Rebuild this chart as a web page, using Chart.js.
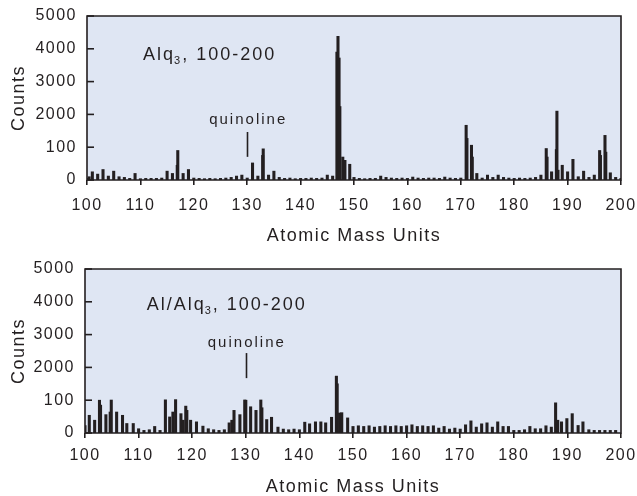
<!DOCTYPE html>
<html><head><meta charset="utf-8">
<script src="https://cdn.jsdelivr.net/npm/chart.js@4.4.1/dist/chart.umd.min.js"></script>
<style>
html,body{margin:0;padding:0;background:#fff;overflow:hidden;}
.panel{position:absolute;left:0;width:637px;}
canvas{display:block;}
</style></head><body>
<div class="panel" style="top:-4px;height:252px"><canvas id="c1" width="637" height="252"></canvas></div>
<div class="panel" style="top:248px;height:248px"><canvas id="c2" width="637" height="248"></canvas></div>
<script>
// ---- data ----
const yTickLabels = ['0','100','2000','3000','4000','5000'];

const alqMass = [100,100.4,101,102,103,104,105,106,107,108,
  109,110,111,112,113,114,115,116,116.9,117,
  118,119,120,121,122,123,124,125,126,127,
  128,129,130,131,132,132.9,133,134,135,136,
  137,138,139,140,141,142,143,144,145,146,
  146.8,147,147.2,147.35,147.9,148.3,149.2,150,151,152,
  153,154,155,156,157,158,159,160,161,162,
  163,164,165,166,167,168,169,170,171,171.15,
  172,172.15,173,174,175,176,177,178,179,180,
  181,182,183,184,185,186,186.15,187,187.9,188,
  188.2,189,190,191,192,193,194,195,196,196.15,
  197,197.15,198,199,200];
const alqCounts = [5,10,25,18,32,12,27,10,8,5,
  20,4,5,5,5,6,27,20,45,90,
  20,32,6,5,4,5,4,5,6,8,
  12,15,6,52,12,75,95,15,27,8,
  5,6,4,5,5,6,5,6,15,12,
  3900,4380,3720,2240,70,60,48,8,5,4,
  5,5,12,8,6,5,6,5,9,6,
  5,6,6,5,9,6,5,6,1370,610,
  215,70,20,6,15,8,15,8,6,5,
  6,5,6,8,15,96,70,25,93,2100,
  30,45,25,63,10,27,8,15,90,75,
  785,85,22,8,5];

const alAlqMass = [100,100.8,101.8,102.7,102.9,103.9,104.7,104.9,105.9,107,
  107.8,109,110,111,112,113,114,115,115.8,116.4,
  116.9,117.9,118.3,118.8,119,119.7,120.8,122,123,124,
  125,126,126.9,127.4,127.8,128.9,129.8,130,130.9,131.9,
  132.8,133,133.9,134.8,136,137,138,139,140,141,
  141.9,143,144,144.9,146,146.9,147.05,147.5,147.9,149,
  150,151,152,153,154,155,156,157,158,159,
  160,161,162,163,164,165,166,167,168,169,
  170,171,172,173,174,175,176,177,178,179,
  180,181,182,183,184,185,186,187,187.8,188.2,
  188.9,189.9,190.9,192,192.9,194,195,196,197,198,
  199];
const alAlqCounts = [23,54,39,100,85,56,64,110,64,54,
  29,29,13,8,10,20,8,122,49,64,
  134,59,39,82,69,39,34,21,13,10,
  8,10,31,39,69,56,113,100,80,69,
  114,77,41,48,18,12,10,12,10,33,
  28,34,34,31,48,1495,1050,61,62,46,
  20,22,20,22,18,20,22,20,22,20,
  22,25,20,22,20,22,15,20,12,15,
  12,25,37,18,28,31,18,34,20,20,
  8,8,10,20,13,13,22,18,92,39,
  34,44,59,23,34,10,8,8,8,8,
  8];

// broken count axis: 0-100 in the first division, 100-2000 in the second, linear above
function toAxis(v){
  if (v <= 100) return v * 10;
  if (v <= 2000) return 1000 + (v - 100) * 1000 / 1900;
  return v;
}

const INK = '#231f20';
const BG = '#dfe6f3';
const FONT = "'Liberation Sans', Arial, Helvetica, sans-serif";
Chart.defaults.color = INK;
Chart.defaults.font.family = FONT;

const panelPlugin = {
  id: 'panel',
  beforeDraw(chart){
    const {ctx, chartArea:{left, top, right, bottom}} = chart;
    ctx.letterSpacing = '1.5px';
    ctx.save();
    ctx.fillStyle = BG;
    ctx.fillRect(left, top, right - left, bottom - top);
    ctx.restore();
  },
  afterDraw(chart){
    const {ctx, chartArea:{left, top, right, bottom}, scales:{x, y}} = chart;
    const o = chart.options.plugins.panel;
    ctx.save();
    ctx.setLineDash([]);
    ctx.strokeStyle = INK;
    ctx.lineWidth = 1.6;
    ctx.beginPath();
    ctx.moveTo(left, top); ctx.lineTo(right, top); ctx.lineTo(right, bottom); ctx.lineTo(left, bottom); ctx.closePath();
    ctx.stroke();
    y.ticks.forEach(t => {
      const py = y.getPixelForValue(t.value);
      ctx.beginPath(); ctx.moveTo(left, py); ctx.lineTo(left + 7, py); ctx.stroke();
    });
    ctx.fillStyle = INK;
    ctx.letterSpacing = '2px';
    ctx.textBaseline = 'alphabetic';
    ctx.textAlign = 'left';
    let tx = x.getPixelForValue(o.titleAt[0]);
    const ty = y.getPixelForValue(o.titleAt[1]);
    ctx.font = '18px ' + FONT;
    ctx.fillText(o.title[0], tx, ty); tx += ctx.measureText(o.title[0]).width;
    ctx.font = '11px ' + FONT;
    ctx.fillText(o.title[1], tx - 1, ty + 4); tx += ctx.measureText(o.title[1]).width - 1;
    ctx.font = '18px ' + FONT;
    ctx.fillText(o.title[2], tx, ty);
    ctx.font = '15px ' + FONT;
    ctx.textAlign = 'center';
    ctx.fillText('quinoline', x.getPixelForValue(o.markAt) + 1, y.getPixelForValue(o.markText));
    const mx = Math.round(x.getPixelForValue(o.markAt)) + 0.5;
    ctx.lineWidth = 1.6;
    ctx.beginPath();
    ctx.moveTo(mx, y.getPixelForValue(o.markLine[0]));
    ctx.lineTo(mx, y.getPixelForValue(o.markLine[1]));
    ctx.stroke();
    ctx.restore();
  }
};

function makeChart(id, masses, counts, cfg){
  return new Chart(document.getElementById(id), {
    type: 'bar',
    data: {
      datasets: [{
        data: masses.map((m, i) => ({x: m, y: toAxis(counts[i])})),
        backgroundColor: INK,
        borderWidth: 0,
        barThickness: 2.4,
        grouped: false
      }]
    },
    options: {
      responsive: false,
      animation: false,
      layout: {padding: {top: cfg.padTop, right: 16, left: 0, bottom: 0}},
      plugins: {legend: {display: false}, tooltip: {enabled: false}, panel: cfg.panel},
      scales: {
        x: {
          type: 'linear', min: 100, max: 200, offset: false,
          ticks: {stepSize: 10, padding: cfg.xTickPad, font: {size: 16}, maxRotation: 0, color: INK},
          grid: {display: true, offset: false, drawOnChartArea: false, drawTicks: true, tickLength: 5, color: INK, lineWidth: 1.6},
          border: {display: false},
          title: {display: true, text: 'Atomic Mass Units', font: {size: 18, lineHeight: 1}, padding: {top: 0, bottom: cfg.xTitlePad}, color: INK},
          afterFit(s){ s.height = cfg.xHeight; s.paddingLeft = 0; s.paddingRight = 0; }
        },
        y: {
          min: 0, max: 5000,
          ticks: {stepSize: 1000, padding: 10, font: {size: 16}, color: INK,
                  callback: (v, i) => yTickLabels[i]},
          grid: {display: false, drawTicks: false},
          border: {display: false},
          title: {display: true, text: 'Counts', font: {size: 18, lineHeight: 1}, padding: {top: 10, bottom: 0}, color: INK},
          afterFit(s){ s.width = cfg.yWidth; s.paddingTop = 0; s.paddingBottom = 0; }
        }
      }
    },
    plugins: [panelPlugin]
  });
}

makeChart('c1', alqMass, alqCounts, {
  padTop: 20, xHeight: 68, yWidth: 87, xTickPad: 11, xTitlePad: 3,
  panel: {title: ['Alq', '3', ', 100-200'], titleAt: [110.5, 3650], markAt: 130, markText: 1700, markLine: [1464, 706]}
});
makeChart('c2', alAlqMass, alAlqCounts, {
  padTop: 21, xHeight: 63, yWidth: 85, xTickPad: 8, xTitlePad: 0,
  panel: {title: ['Al/Alq', '3', ', 100-200'], titleAt: [111.5, 3750], markAt: 130, markText: 2630, markLine: [2437, 1673]}
});
</script>
</body></html>
